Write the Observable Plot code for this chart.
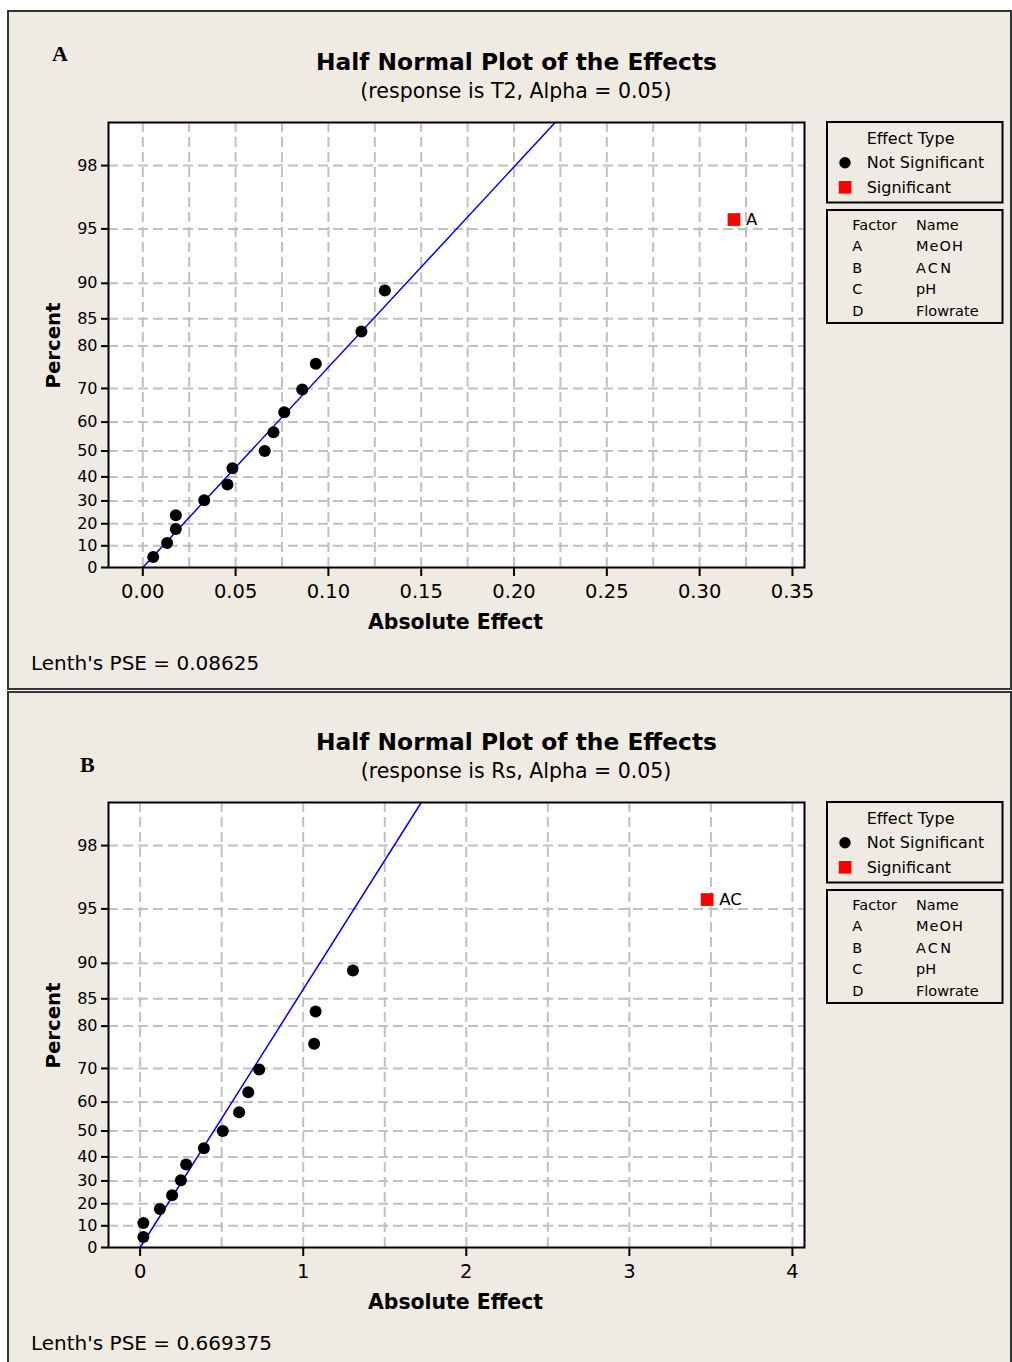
<!DOCTYPE html>
<html>
<head>
<meta charset="utf-8">
<script src="https://cdn.jsdelivr.net/npm/d3@7"></script>
<script src="https://cdn.jsdelivr.net/npm/@observablehq/plot@0.6"></script>
<style>
  html, body { margin: 0; padding: 0; background: #ffffff; }
  body { position: relative; width: 1012px; height: 1362px; overflow: hidden; font-family: "DejaVu Sans", Verdana, sans-serif; }
  .panel { position: absolute; left: 7px; width: 1005px; background: #efebe2; border: 2px solid #333333; box-sizing: border-box; z-index: 0; }
  .plot { position: absolute; left: 0; z-index: 1; }
  #overlay { position: absolute; left: 0; top: 0; z-index: 2; pointer-events: none; }
</style>
</head>
<body>
<div class="panel" style="top:10px;height:680px;"></div>
<div class="panel" style="top:691px;height:720px;"></div>
<div id="plotA" class="plot" style="top:0px;"></div>
<div id="plotB" class="plot" style="top:680px;"></div>
<svg id="overlay" width="1012" height="1362"></svg>
<script>
// ---------------- data ----------------
const percentTicks = [0, 10, 20, 30, 40, 50, 60, 70, 80, 85, 90, 95, 98];
// plotting positions (percent), one per effect (15 effects)
const percents = [4.9, 11.3, 17.6, 23.8, 30.3, 36.9, 43.4, 50, 56.6, 63.1, 69.7, 76.2, 82.8, 89.1, 95.6];
const effectTypes = ["Not Significant","Not Significant","Not Significant","Not Significant","Not Significant",
  "Not Significant","Not Significant","Not Significant","Not Significant","Not Significant",
  "Not Significant","Not Significant","Not Significant","Not Significant","Significant"];

// Panel A: response T2
const effectsA = [0.0056, 0.0131, 0.0178, 0.0178, 0.0331, 0.0456, 0.0483, 0.0657, 0.0704, 0.0762, 0.0859, 0.0932, 0.1178, 0.1304, 0.3185];
const termsA = ["","","","","","","","","","","","","","","A"];
const pseA = 0.08625;
const xTicksA = [0, 0.05, 0.10, 0.15, 0.20, 0.25, 0.30, 0.35];
const xGridA = [0, 0.025, 0.05, 0.075, 0.10, 0.125, 0.15, 0.175, 0.20, 0.225, 0.25, 0.275, 0.30, 0.325, 0.35];

// Panel B: response Rs
const effectsB = [0.02, 0.02, 0.121, 0.196, 0.250, 0.282, 0.391, 0.507, 0.607, 0.663, 0.730, 1.067, 1.076, 1.305, 3.477];
const termsB = ["","","","","","","","","","","","","","","AC"];
const pseB = 0.669375;
const xTicksB = [0, 1, 2, 3, 4];
const xGridB = [0, 0.5, 1, 1.5, 2, 2.5, 3, 3.5, 4];

const factors = ["A", "B", "C", "D"];
const factorNames = ["MeOH", "ACN", "pH", "Flowrate"];

// ---------------- half-normal scale helper ----------------
function probit(p) {
  const a=[-3.969683028665376e+01,2.209460984245205e+02,-2.759285104469687e+02,1.383577518672690e+02,-3.066479806614716e+01,2.506628277459239e+00];
  const b=[-5.447609879822406e+01,1.615858368580409e+02,-1.556989798598866e+02,6.680131188771972e+01,-1.328068155288572e+01];
  const c=[-7.784894002430293e-03,-3.223964580411365e-01,-2.400758277161838e+00,-2.549671010115604e+00,4.374664141464968e+00,2.938163982698783e+00];
  const d=[7.784695709041462e-03,3.224671290700398e-01,2.445134137142996e+00,3.754408661907416e+00];
  const pl = 0.02425, ph = 1 - pl;
  let q, r;
  if (p < pl) { q = Math.sqrt(-2*Math.log(p)); return (((((c[0]*q+c[1])*q+c[2])*q+c[3])*q+c[4])*q+c[5])/((((d[0]*q+d[1])*q+d[2])*q+d[3])*q+1); }
  if (p <= ph) { q = p - 0.5; r = q*q; return (((((a[0]*r+a[1])*r+a[2])*r+a[3])*r+a[4])*r+a[5])*q/(((((b[0]*r+b[1])*r+b[2])*r+b[3])*r+b[4])*r+1); }
  q = Math.sqrt(-2*Math.log(1-p)); return -(((((c[0]*q+c[1])*q+c[2])*q+c[3])*q+c[4])*q+c[5])/((((d[0]*q+d[1])*q+d[2])*q+d[3])*q+1);
}
const hn = pct => pct <= 0 ? 0 : probit(0.5 + pct / 200);
const yTicks = percentTicks.map(hn);
const yLabel = z => { const i = yTicks.findIndex(t => Math.abs(t - z) < 1e-9); return i < 0 ? "" : String(percentTicks[i]); };
const zTop = hn(99);

const FONT = '"DejaVu Sans", Verdana, sans-serif';

function makePanel({effects, terms, pse, xDomain, xTicks, xGrid, xFormat}) {
  const rows = effects.map((e, i) => ({effect: e, z: hn(percents[i]), type: effectTypes[i], term: terms[i]}));
  const notSig = rows.filter(d => d.type === "Not Significant");
  const sig = rows.filter(d => d.type === "Significant");
  const fit = [0, zTop].map(z => ({x: pse * z, z}));
  const gridStyle = {stroke: "#c0c0c0", strokeOpacity: 1, strokeWidth: 2, strokeDasharray: "10,5"};
  return Plot.plot({
    width: 820, height: 640,
    marginTop: 122, marginBottom: 73, marginLeft: 108, marginRight: 16,
    style: {background: "transparent", fontFamily: FONT, color: "black", overflow: "visible"},
    x: {domain: xDomain},
    y: {domain: [0, zTop]},
    marks: [
      Plot.frame({fill: "white"}),
      Plot.gridX(xGrid, gridStyle),
      Plot.gridY(yTicks.slice(1), gridStyle),
      Plot.line(fit, {x: "x", y: "z", stroke: "#0000ff", strokeWidth: 1.5}),
      Plot.dot(notSig, {x: "effect", y: "z", r: 6, fill: "black"}),
      Plot.dot(sig, {x: "effect", y: "z", r: 7.2, symbol: "square", fill: "#ff0000"}),
      Plot.text(sig, {x: "effect", y: "z", text: "term", dx: 12, textAnchor: "start", fontSize: 16.5, fill: "black"}),
      Plot.frame({stroke: "black", strokeWidth: 2}),
      Plot.axisX(xTicks, {tickFormat: xFormat, tickSize: 9, tickPadding: 8, fontSize: 19.5, label: null, strokeWidth: 2}),
      Plot.axisY(yTicks, {tickFormat: yLabel, tickSize: 7, tickPadding: 4, fontSize: 16, label: null, strokeWidth: 2})
    ]
  });
}

document.getElementById("plotA").append(makePanel({
  effects: effectsA, terms: termsA, pse: pseA,
  xDomain: [-0.01848, 0.3565], xTicks: xTicksA, xGrid: xGridA, xFormat: d3.format(".2f")
}));
document.getElementById("plotB").append(makePanel({
  effects: effectsB, terms: termsB, pse: pseB,
  xDomain: [-0.194, 4.074], xTicks: xTicksB, xGrid: xGridB, xFormat: d3.format("d")
}));

// ---------------- annotations (titles, labels, legends) ----------------
const ov = d3.select("#overlay");
function txt(x, y, s, o = {}) {
  const t = ov.append("text")
    .attr("x", x).attr("y", y)
    .attr("font-family", o.family || FONT)
    .attr("font-size", o.size || 16)
    .attr("font-weight", o.weight || "normal")
    .attr("text-anchor", o.anchor || "start")
    .attr("fill", "black")
    .text(s);
  if (o.len) t.attr("textLength", o.len).attr("lengthAdjust", o.adjust || "spacingAndGlyphs");
  if (o.rotate) t.attr("transform", `rotate(${o.rotate},${x},${y})`);
  return t;
}

function decorate(dy, letter, letterY, subtitle, pse) {
  txt(letter === "A" ? 52 : 80, letterY, letter, {family: '"Liberation Serif", "DejaVu Serif", serif', size: 22, weight: "bold"});
  txt(516.5, 70 + dy, "Half Normal Plot of the Effects", {size: 23.3, weight: "bold", anchor: "middle", len: 401});
  txt(516, 98 + dy, subtitle, {size: 20.5, anchor: "middle"});
  txt(59.5, 345.5 + dy, "Percent", {size: 20, weight: "bold", anchor: "middle", rotate: -90, len: 86});
  txt(455.5, 629 + dy, "Absolute Effect", {size: 20.5, weight: "bold", anchor: "middle", len: 175});
  txt(31, 670 + dy, "Lenth's PSE = " + pse, {size: 20});

  // legend box 1: effect type
  ov.append("rect").attr("x", 827).attr("y", 122 + dy).attr("width", 175.5).attr("height", 80.5)
    .attr("fill", "none").attr("stroke", "black").attr("stroke-width", 2);
  txt(866.7, 143.5 + dy, "Effect Type", {size: 16});
  ov.append("circle").attr("cx", 845).attr("cy", 162.7 + dy).attr("r", 5.7).attr("fill", "black");
  txt(866.7, 168 + dy, "Not Significant", {size: 16});
  ov.append("rect").attr("x", 838.8).attr("y", 181 + dy).attr("width", 12.6).attr("height", 12.6).attr("fill", "#ff0000");
  txt(866.7, 192.5 + dy, "Significant", {size: 16});

  // legend box 2: factor names
  ov.append("rect").attr("x", 827).attr("y", 210 + dy).attr("width", 175.5).attr("height", 113)
    .attr("fill", "none").attr("stroke", "black").attr("stroke-width", 2);
  txt(852.3, 230 + dy, "Factor", {size: 14.5});
  txt(916, 230 + dy, "Name", {size: 14.5});
  factors.forEach((f, i) => {
    const y = 251 + i * 21.5 + dy;
    txt(852.3, y, f, {size: 14.5});
    const n = factorNames[i];
    const opts = {size: 14.5};
    if (n === "MeOH") { opts.len = 47; opts.adjust = "spacing"; }
    if (n === "ACN") { opts.len = 35; opts.adjust = "spacing"; }
    txt(916, y, n, opts);
  });
}

decorate(0, "A", 61, "(response is T2, Alpha = 0.05)", "0.08625");
decorate(680, "B", 772, "(response is Rs, Alpha = 0.05)", "0.669375");
</script>
</body>
</html>
